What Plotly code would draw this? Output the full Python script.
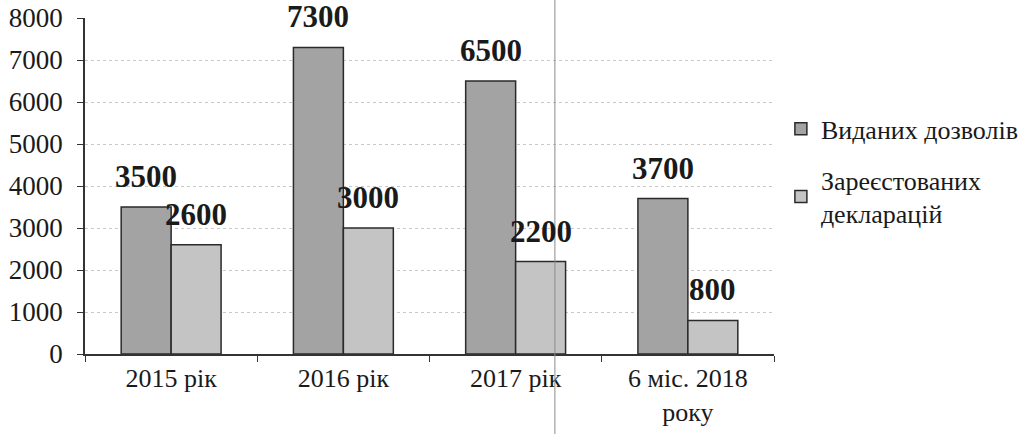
import plotly.graph_objects as go

categories = ["2015 рік", "2016 рік", "2017 рік", "6 міс. 2018<br>року"]
issued = [3500, 7300, 6500, 3700]
declared = [2600, 3000, 2200, 800]
series_names = ["Виданих дозволів", "Зареєстованих<br>декларацій"]
y_ticks = [0, 1000, 2000, 3000, 4000, 5000, 6000, 7000, 8000]

SERIF = "Liberation Serif"

fig = go.Figure()
series = [(issued, series_names[0], "#a3a3a3", "a", -25),
          (declared, series_names[1], "#c4c4c4", "b", 25)]
for vals, name, col, grp, xs in series:
    fig.add_trace(go.Bar(
        x=categories, y=vals, name=name, legendgroup=grp,
        marker=dict(color=col, line=dict(color="#2a2a2a", width=1.5)),
        textposition="none", hoverinfo="x+y",
    ))
    for c, v in zip(categories, vals):
        fig.add_annotation(
            x=c, y=v, text=str(v), showarrow=False,
            xanchor="center", yanchor="bottom", xshift=xs, yshift=11,
            font=dict(family=SERIF, size=31, color="#1a1a1a", weight="bold"),
        )

# scan crease line seen in the reference
fig.add_shape(type="line", xref="paper", yref="paper",
              x0=0.682, x1=0.682, y0=-0.24, y1=1.06,
              line=dict(color="#8a8a8a", width=1))

fig.update_layout(
    width=1027, height=434,
    margin=dict(l=85, r=253, t=18, b=80, autoexpand=False),
    paper_bgcolor="white", plot_bgcolor="white",
    barmode="group", bargap=0.42, bargroupgap=0.0,
    font=dict(family=SERIF, size=26, color="#1a1a1a"),
    legend=dict(x=1.010, y=0.74, xanchor="left", yanchor="top",
                font=dict(family=SERIF, size=26, color="#1a1a1a"),
                itemwidth=30, tracegroupgap=14, bgcolor="rgba(0,0,0,0)"),
    showlegend=True,
)
fig.update_xaxes(
    showline=True, linecolor="#333333", linewidth=1.5,
    ticks="outside", tickson="boundaries", ticklen=6, tickcolor="#333333",
    tickfont=dict(family=SERIF, size=26, color="#1a1a1a"),
    showgrid=False, automargin=False,
)
fig.update_yaxes(
    range=[0, 8000], tickvals=y_ticks,
    showline=True, linecolor="#333333", linewidth=1.5,
    ticks="outside", ticklen=6, tickcolor="#333333", ticklabelstandoff=9,
    tickfont=dict(family=SERIF, size=27, color="#1a1a1a"),
    showgrid=True, gridcolor="#c8c8c8", griddash="dot", gridwidth=1,
    zeroline=False, automargin=False,
)

fig.write_html("out.html", config={"displayModeBar": False},
               post_script="document.body.style.margin='0';")
